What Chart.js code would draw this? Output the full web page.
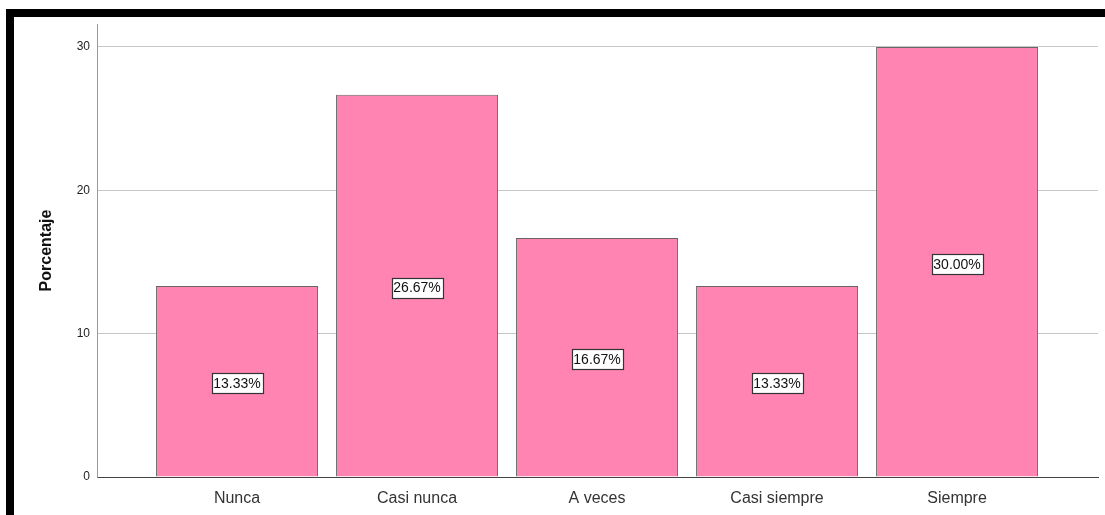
<!DOCTYPE html>
<html>
<head>
<meta charset="utf-8">
<script src="https://cdn.jsdelivr.net/npm/chart.js@4"></script>
<style>
  body { margin: 0; background: #fff; }
  #frame {
    position: absolute; left: 6px; top: 9px;
    width: 1091px; height: 498px;
    border-top: 8px solid #000; border-left: 8px solid #000;
  }
</style>
</head>
<body>
<div id="frame"><canvas id="pctChart" width="1091" height="498"></canvas></div>
<script>
// Porcentaje por categoria
const categories = ['Nunca', 'Casi nunca', 'A veces', 'Casi siempre', 'Siempre'];
const percentages = [13.33, 26.67, 16.67, 13.33, 30.00];
const yTicks = [0, 10, 20, 30];

// boxed value labels in the middle of each bar
const boxLabels = {
  id: 'boxLabels',
  afterDatasetsDraw(chart) {
    const ctx = chart.ctx;
    const meta = chart.getDatasetMeta(0);
    ctx.save();
    ctx.font = '14px "Liberation Sans", Arial, sans-serif';
    ctx.textAlign = 'center';
    ctx.textBaseline = 'middle';
    meta.data.forEach((bar, i) => {
      const txt = percentages[i].toFixed(2) + '%';
      const cy = (bar.y + bar.base) / 2 + 2;
      const w = Math.round(ctx.measureText(txt).width + 4);
      const h = 20;
      const bx = Math.round(bar.x - w / 2) + 0.5;
      const by = Math.round(cy - h / 2) + 0.5;
      ctx.fillStyle = '#fff';
      ctx.fillRect(bx, by, w, h);
      ctx.strokeStyle = '#333';
      ctx.lineWidth = 1.2;
      ctx.strokeRect(bx, by, w, h);
      ctx.fillStyle = '#111';
      ctx.fillText(txt, bar.x, cy + 1);
    });
    ctx.restore();
  }
};

new Chart(document.getElementById('pctChart'), {
  type: 'bar',
  data: {
    datasets: [{
      label: 'Porcentaje',
      data: percentages.map((v, i) => ({ x: i, y: v })),
      backgroundColor: '#ff84b2',
      borderColor: '#666',
      borderWidth: 1,
      categoryPercentage: 1,
      barPercentage: 0.9
    }]
  },
  options: {
    responsive: false,
    animation: false,
    layout: { padding: { top: 7, right: 7, left: 0, bottom: 0 } },
    plugins: {
      legend: { display: false },
      tooltip: { enabled: false }
    },
    scales: {
      x: {
        type: 'linear',
        offset: false,
        min: -0.778,
        max: 4.783,
        afterBuildTicks: (scale) => { scale.ticks = categories.map((c, i) => ({ value: i })); },
        afterFit: (scale) => { scale.height = 38; },
        ticks: {
          callback: (v) => categories[v],
          autoSkip: false,
          maxRotation: 0,
          padding: 12,
          color: '#333',
          font: { family: '"Liberation Sans", Arial, sans-serif', size: 16 }
        },
        grid: { display: false, drawTicks: false },
        border: { color: '#444', width: 1 }
      },
      y: {
        min: 0,
        max: 31.6,
        afterBuildTicks: (scale) => { scale.ticks = yTicks.map(v => ({ value: v })); },
        afterFit: (scale) => { scale.width = 83; scale.paddingTop = 0; scale.paddingBottom = 0; },
        ticks: {
          padding: 7,
          color: '#222',
          font: { family: '"Liberation Sans", Arial, sans-serif', size: 12 }
        },
        grid: {
          drawTicks: false,
          color: (c) => c.tick.value === 0 ? 'rgba(0,0,0,0)' : '#c8c8c8',
          lineWidth: 1
        },
        border: { color: '#999', width: 1 },
        title: {
          display: true,
          text: 'Porcentaje',
          color: '#111',
          padding: { top: 23, bottom: 0 },
          font: { family: '"Liberation Sans", Arial, sans-serif', size: 16, weight: 'bold' }
        }
      }
    }
  },
  plugins: [boxLabels]
});
</script>
</body>
</html>
